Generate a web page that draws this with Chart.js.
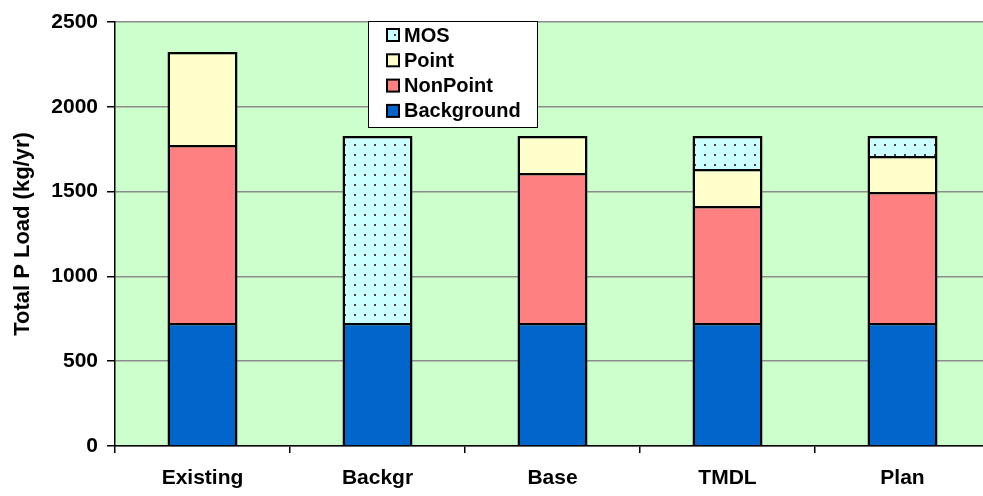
<!DOCTYPE html>
<html>
<head>
<meta charset="utf-8">
<script src="https://cdn.jsdelivr.net/npm/chart.js@4/dist/chart.umd.min.js"></script>
<style>
  html, body { margin: 0; padding: 0; background: #ffffff; overflow: hidden; }
  #wrap { width: 995px; height: 496px; }
</style>
</head>
<body>
<div id="wrap"><canvas id="c" width="995" height="496"></canvas></div>
<script>
// Phosphorus load allocation by scenario (kg/yr)
const categories = ['Existing', 'Backgr', 'Base', 'TMDL', 'Plan'];
const background = [725, 725, 725, 725, 725];
const nonPoint   = [1050, null, 885, 690, 773];
const pointSrc   = [548, null, 218, 218, 212];
const mos        = [null, 1103, null, 195, 118];
const yTicks     = [0, 500, 1000, 1500, 2000, 2500];

const FONT = 'Arial, "Liberation Sans", sans-serif';

// dotted fill for the margin of safety
function dotPattern() {
  const t = document.createElement('canvas');
  t.width = 10; t.height = 10;
  const g = t.getContext('2d');
  g.fillStyle = '#CCFFFF';
  g.fillRect(0, 0, 10, 10);
  g.fillStyle = '#444444';
  g.fillRect(4, 4, 2, 2);
  return g.createPattern(t, 'repeat');
}
const mosFill = dotPattern();

const plotBg = {
  id: 'plotBg',
  beforeDraw(chart) {
    const { ctx, chartArea: a } = chart;
    ctx.save();
    ctx.fillStyle = '#CCFFCC';
    ctx.fillRect(a.left, a.top, a.right - a.left, a.bottom - a.top);
    ctx.restore();
  }
};

// boxed legend, top item = top of stack
const boxLegend = {
  id: 'boxLegend',
  afterDraw(chart) {
    const { ctx } = chart;
    const x = 368, y = 21, w = 169, h = 106;
    ctx.save();
    ctx.fillStyle = '#ffffff';
    ctx.fillRect(x, y, w, h);
    ctx.strokeStyle = '#000000';
    ctx.lineWidth = 1;
    ctx.strokeRect(x + 0.5, y + 0.5, w, h);
    const ds = chart.data.datasets.slice().reverse();
    ctx.font = 'bold 20px ' + FONT;
    ctx.textBaseline = 'middle';
    ds.forEach((d, i) => {
      const cy = 35 + i * 25.3;
      ctx.fillStyle = d.backgroundColor;
      ctx.fillRect(387, cy - 6, 12, 12);
      ctx.lineWidth = 2;
      ctx.strokeStyle = '#000000';
      ctx.strokeRect(387, cy - 6, 12, 12);
      ctx.fillStyle = '#000000';
      ctx.fillText(d.label, 404, cy + 1);
    });
    ctx.restore();
  }
};

new Chart(document.getElementById('c'), {
  type: 'bar',
  data: {
    labels: categories,
    datasets: [
      { label: 'Background', data: background, backgroundColor: '#0066CC' },
      { label: 'NonPoint',   data: nonPoint,   backgroundColor: '#FF8080' },
      { label: 'Point',      data: pointSrc,   backgroundColor: '#FFFFCC' },
      { label: 'MOS',        data: mos,        backgroundColor: mosFill }
    ].map(d => Object.assign(d, {
      borderColor: '#000000', borderWidth: 2.5, borderSkipped: 'bottom',
      categoryPercentage: 1.0, barPercentage: 0.4
    }))
  },
  options: {
    responsive: false,
    animation: false,
    layout: { padding: { left: 0, right: 5, top: 22, bottom: 0 } },
    plugins: { legend: { display: false }, tooltip: { enabled: false } },
    scales: {
      x: {
        stacked: true,
        afterFit(s) { s.height = 50; },
        grid: { drawOnChartArea: false, drawTicks: true, tickLength: 7, tickColor: '#000000', lineWidth: 1.5 },
        border: { color: '#000000', width: 1.5 },
        ticks: { color: '#000000', font: { family: FONT, size: 21, weight: 'bold' }, padding: 13 }
      },
      y: {
        stacked: true,
        min: 0, max: 2500,
        afterFit(s) { s.width = 115; },
        afterBuildTicks(s) { s.ticks = yTicks.map(v => ({ value: v })); },
        grid: { color: '#8C8C8C', lineWidth: 1.5, tickColor: '#000000', tickLength: 8 },
        border: { color: '#000000', width: 1.5 },
        ticks: { color: '#000000', font: { family: FONT, size: 21, weight: 'bold' }, padding: 9,
                 callback: v => String(v) },
        title: { display: true, text: 'Total P Load (kg/yr)', color: '#000000',
                 font: { family: FONT, size: 22, weight: 'bold' }, padding: { top: 10, bottom: 0 } }
      }
    }
  },
  plugins: [plotBg, boxLegend]
});
</script>
</body>
</html>
